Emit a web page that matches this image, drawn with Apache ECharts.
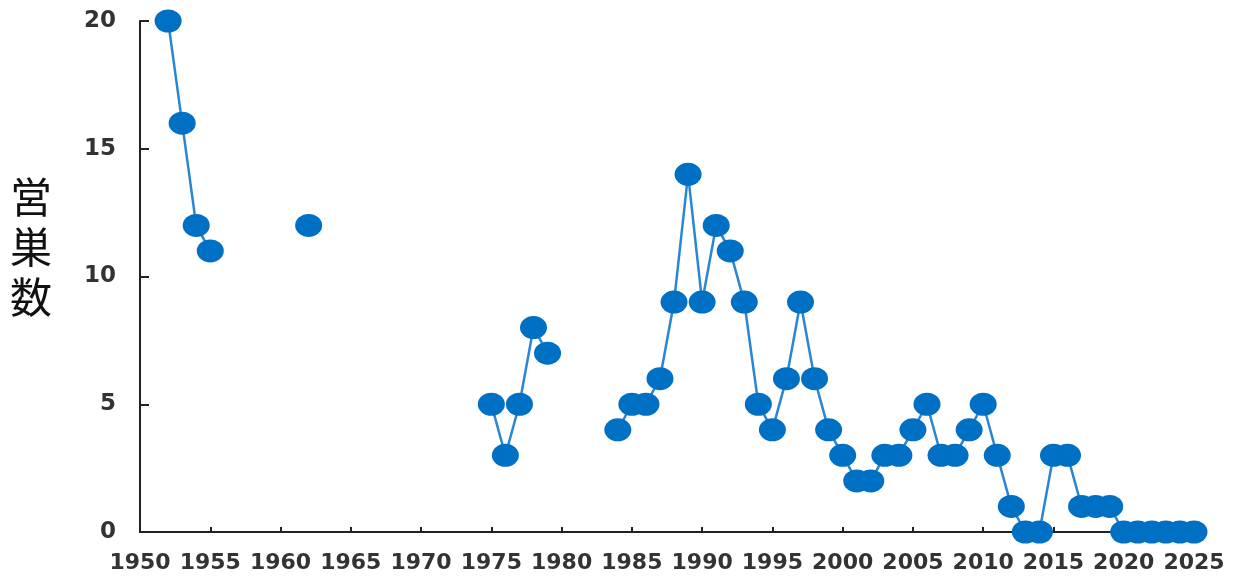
<!DOCTYPE html>
<html>
<head>
<meta charset="utf-8">
<script src="https://cdn.jsdelivr.net/npm/echarts@6/dist/echarts.min.js"></script>
<style>html,body{margin:0;padding:0;background:#fff}#c{width:1240px;height:580px}</style>
</head>
<body>
<div id="c"></div>
<script>
// Years and nest counts (null = no survey / no data)
const years = [];
for (let y = 1952; y <= 2025; y++) years.push(y);
const counts = [
  // 1952-1961
  20, 16, 12, 11, null, null, null, null, null, null,
  // 1962-1971
  12, null, null, null, null, null, null, null, null, null,
  // 1972-1981
  null, null, null, 5, 3, 5, 8, 7, null, null,
  // 1982-1991
  null, null, 4, 5, 5, 6, 9, 14, 9, 12,
  // 1992-2001
  11, 9, 5, 4, 6, 9, 6, 4, 3, 2,
  // 2002-2011
  2, 3, 3, 4, 5, 3, 3, 4, 5, 3,
  // 2012-2021
  1, 0, 0, 3, 3, 1, 1, 1, 0, 0,
  // 2022-2025
  0, 0, 0, 0
];
const yAxisName = '営巣数';
const xTicks = { min: 1950, max: 2025, interval: 5 };
const yTicks = { min: 0, max: 20, interval: 5 };

const seriesData = years.map((y, i) => [y, counts[i] === null ? '-' : counts[i]]);

const chart = echarts.init(document.getElementById('c'), null, { renderer: 'canvas' });
chart.setOption({
  animation: false,
  backgroundColor: '#fff',
  grid: { left: 140, right: 46, top: 21, bottom: 48, containLabel: false },
  xAxis: {
    type: 'value',
    min: xTicks.min, max: xTicks.max, interval: xTicks.interval,
    axisLine: { show: true, lineStyle: { color: '#222', width: 2 } },
    axisTick: { show: true, inside: true, length: 5, lineStyle: { color: '#222', width: 2 } },
    splitLine: { show: false },
    axisLabel: { fontFamily: 'DejaVu Sans', fontWeight: 'bold', fontSize: 22, color: '#333', margin: 20,
      formatter: v => String(v) }
  },
  yAxis: {
    type: 'value',
    min: yTicks.min, max: yTicks.max, interval: yTicks.interval,
    axisLine: { show: true, lineStyle: { color: '#222', width: 2 } },
    axisTick: { show: true, inside: true, length: 9, lineStyle: { color: '#222', width: 2 } },
    splitLine: { show: false },
    axisLabel: { fontFamily: 'DejaVu Sans', fontWeight: 'bold', fontSize: 23, color: '#333', margin: 24 }
  },
  graphic: [{
    type: 'text',
    left: 10, top: 172,
    style: {
      text: yAxisName.split('').join('\n'),
      font: '42px "Noto Sans CJK JP"',
      lineHeight: 50,
      fill: '#111'
    }
  }],
  series: [{
    type: 'line',
    data: seriesData,
    connectNulls: false,
    symbol: 'circle',
    symbolSize: [27, 23],
    showAllSymbol: true,
    itemStyle: { color: '#0070c4', borderWidth: 0 },
    lineStyle: { color: '#2a86d2', width: 2.5 }
  }]
});
</script>
</body>
</html>
